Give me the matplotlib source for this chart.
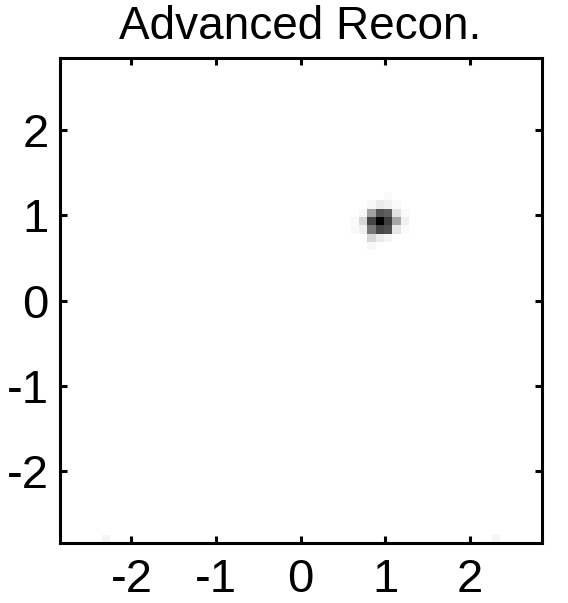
import numpy as np
import matplotlib
matplotlib.use("Agg")
import matplotlib.pyplot as plt

# reconstruction grid (58 x 58 cells over +-2.85)
n_cells = 58
half_width = 2.85

# non-zero cells: (row from bottom, column from left, intensity 0..1)
peak_rows = [41, 40, 39, 38, 37, 36, 35]
peak_cols = [35, 36, 37, 38, 39, 40, 41]
peak_vals = [
    [0.00, 0.00, 0.00, 0.00, 0.02, 0.00, 0.00],
    [0.00, 0.00, 0.03, 0.08, 0.06, 0.02, 0.00],
    [0.00, 0.03, 0.37, 0.67, 0.63, 0.12, 0.02],
    [0.02, 0.16, 0.73, 1.00, 0.76, 0.35, 0.06],
    [0.02, 0.06, 0.53, 0.73, 0.69, 0.10, 0.02],
    [0.00, 0.00, 0.16, 0.08, 0.04, 0.00, 0.00],
    [0.00, 0.00, 0.03, 0.00, 0.00, 0.00, 0.00],
]
faint_cells = [(0, 5, 0.04), (0, 52, 0.04)]

ticks = [-2, -1, 0, 1, 2]

img = np.zeros((n_cells, n_cells))
for i, r in enumerate(peak_rows):
    for j, c in enumerate(peak_cols):
        img[r, c] = peak_vals[i][j]
for r, c, v in faint_cells:
    img[r, c] = v

plt.rcParams['font.family'] = ['Liberation Sans', 'DejaVu Sans']

fig = plt.figure(figsize=(5.68, 6.03), dpi=100)
ax = fig.add_axes([59.5 / 568, 60 / 603, 482 / 568, 485 / 603])
ax.imshow(img, cmap='gray_r', vmin=0, vmax=1, origin='lower',
          interpolation='nearest', aspect='auto',
          extent=[-half_width, half_width, -half_width, half_width])
ax.set_xlim(-half_width, half_width)
ax.set_ylim(-half_width, half_width)
ax.set_xticks(ticks)
ax.set_yticks(ticks)
ax.set_xticklabels([str(t) for t in ticks])
ax.set_yticklabels([str(t) for t in ticks])
ax.tick_params(direction='in', length=5, width=2.2, labelsize=34,
               top=True, right=True)
ax.tick_params(axis='x', pad=11)
ax.tick_params(axis='y', pad=8)
for s in ax.spines.values():
    s.set_linewidth(2.2)
ax.set_title('Advanced Recon.', fontsize=33, pad=14)

fig.savefig('out.png', dpi=100)
